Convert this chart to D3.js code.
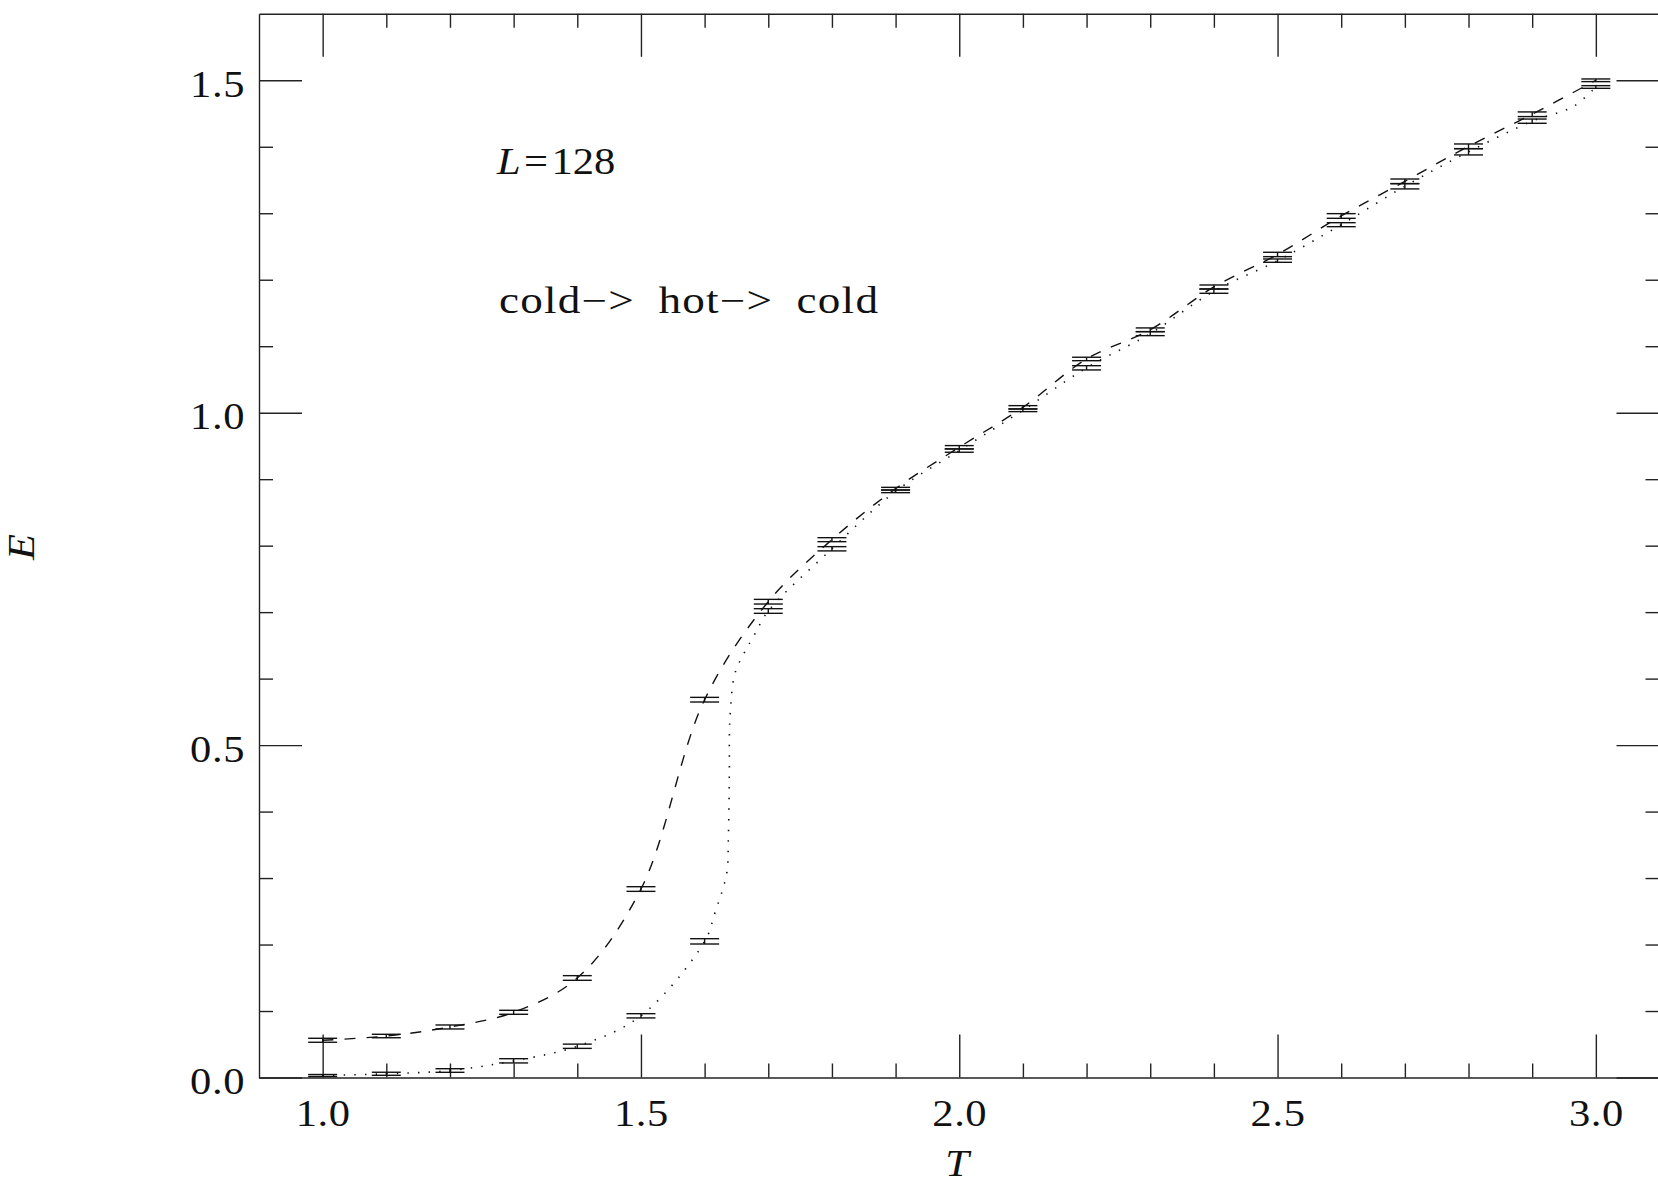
<!DOCTYPE html>
<html>
<head>
<meta charset="utf-8">
<script src="https://cdn.jsdelivr.net/npm/d3@7"></script>
<style>
  html, body { margin: 0; padding: 0; background: #fff; }
  svg { display: block; }
  text { font-family: "Liberation Serif", "DejaVu Serif", serif; fill: #111; }
</style>
</head>
<body>
<svg id="chart" width="1658" height="1185"></svg>
<script>
// Temperatures of the sweep
const temps = [1.0, 1.1, 1.2, 1.3, 1.4, 1.5, 1.6, 1.7, 1.8, 1.9, 2.0,
               2.1, 2.2, 2.3, 2.4, 2.5, 2.6, 2.7, 2.8, 2.9, 3.0];

// Energy while heating (cold start), with errors
const heatE = [0.056, 0.0624, 0.076, 0.0981, 0.1497, 0.2835, 0.5683, 0.7157, 0.809, 0.8857, 0.948,
               1.0081, 1.0808, 1.1247, 1.1891, 1.238, 1.2959, 1.348, 1.4007, 1.4489, 1.500];
const heatErr = [0.003, 0.0026, 0.003, 0.003, 0.0035, 0.0035, 0.0035, 0.0035, 0.003, 0.002, 0.0025,
                 0.0025, 0.0026, 0.0028, 0.003, 0.0033, 0.0035, 0.0035, 0.0035, 0.0035, 0.002];

// Energy while cooling back down, with errors
const coolE = [0.003, 0.0056, 0.0105, 0.0251, 0.047, 0.0928, 0.2048, 0.7017, 0.7953, 0.8817, 0.943,
               1.0036, 1.0675, 1.1189, 1.1828, 1.2287, 1.2828, 1.3406, 1.3924, 1.4385, 1.4899];
const coolErr = [0.0015, 0.0023, 0.0027, 0.0032, 0.0032, 0.0032, 0.004, 0.0035, 0.0032, 0.002, 0.0025,
                 0.002, 0.0032, 0.003, 0.0032, 0.0025, 0.003, 0.004, 0.0047, 0.0032, 0.002];

// Extra knots of the smooth cooling curve (steep jump near T = 1.64)
const coolKnotT = [1.616, 1.6347, 1.6372, 1.6388, 1.6399, 1.6477, 1.6619, 1.6781, 2.964];
const coolKnotE = [0.247, 0.3072, 0.3573, 0.4525, 0.5427, 0.608, 0.6381, 0.6656, 1.4603];

// Axis ticks
const xMajorTicks = [1.0, 1.5, 2.0, 2.5, 3.0];
const xTickLabels = ["1.0", "1.5", "2.0", "2.5", "3.0"];
const xMinorTicks = [1.1, 1.2, 1.3, 1.4, 1.6, 1.7, 1.8, 1.9, 2.1, 2.2, 2.3, 2.4, 2.6, 2.7, 2.8, 2.9];
const yMajorTicks = [0.0, 0.5, 1.0, 1.5];
const yTickLabels = ["0.0", "0.5", "1.0", "1.5"];
const yMinorTicks = [0.1, 0.2, 0.3, 0.4, 0.6, 0.7, 0.8, 0.9, 1.1, 1.2, 1.3, 1.4];

const svg = d3.select("#chart");
const INK = "#111";
const AX = "#222";

const x = d3.scaleLinear().domain([0.9, 3.1]).range([259, 1659.5]);
const y = d3.scaleLinear().domain([0, 1.6]).range([1077.5, 13.8]);

const x0 = x.range()[0], x1 = x.range()[1];
const y0 = y.range()[0], y1 = y.range()[1];

const MAJOR = 43, MINOR = 14;
const WIDEN = 1.15;   // horizontal stretch of the serif face for labels
const LEFT_PAD = 14;

function styleAxis(g) {
  g.selectAll("path.domain").attr("stroke", AX).attr("stroke-width", 1.4);
  g.selectAll(".tick line").attr("stroke", AX).attr("stroke-width", 1.4);
  g.selectAll(".tick text")
    .attr("fill", INK)
    .style("font-family", '"Liberation Serif", "DejaVu Serif", serif')
    .style("font-size", "37px")
    .style("letter-spacing", "0.5px");
}

// bottom axis with labels
svg.append("g")
  .attr("transform", `translate(0,${y0})`)
  .call(d3.axisBottom(x).tickValues(xMajorTicks).tickSize(-MAJOR).tickSizeOuter(0)
        .tickPadding(22).tickFormat((d, i) => xTickLabels[i]))
  .call(styleAxis)
  .call(g => g.selectAll(".tick text").attr("transform", `scale(${WIDEN},1)`));
svg.append("g")
  .attr("transform", `translate(0,${y0})`)
  .call(d3.axisBottom(x).tickValues(xMinorTicks).tickSize(-MINOR).tickFormat(""))
  .call(g => g.select("path.domain").remove())
  .call(styleAxis);

// top axis
svg.append("g")
  .attr("transform", `translate(0,${y1})`)
  .call(d3.axisTop(x).tickValues(xMajorTicks).tickSize(-MAJOR).tickSizeOuter(0).tickFormat(""))
  .call(styleAxis);
svg.append("g")
  .attr("transform", `translate(0,${y1})`)
  .call(d3.axisTop(x).tickValues(xMinorTicks).tickSize(-MINOR).tickFormat(""))
  .call(g => g.select("path.domain").remove())
  .call(styleAxis);

// left axis with labels
svg.append("g")
  .attr("transform", `translate(${x0},0)`)
  .call(d3.axisLeft(y).tickValues(yMajorTicks).tickSize(-MAJOR).tickSizeOuter(0)
        .tickFormat((d, i) => yTickLabels[i]))
  .call(styleAxis)
  .call(g => g.selectAll(".tick text")
    .attr("dy", "0.43em")
    .attr("x", -LEFT_PAD / WIDEN)
    .attr("transform", `scale(${WIDEN},1)`));
svg.append("g")
  .attr("transform", `translate(${x0},0)`)
  .call(d3.axisLeft(y).tickValues(yMinorTicks).tickSize(-MINOR).tickFormat(""))
  .call(g => g.select("path.domain").remove())
  .call(styleAxis);

// right axis
svg.append("g")
  .attr("transform", `translate(${x1},0)`)
  .call(d3.axisRight(y).tickValues(yMajorTicks).tickSize(-MAJOR).tickSizeOuter(0).tickFormat(""))
  .call(styleAxis);
svg.append("g")
  .attr("transform", `translate(${x1},0)`)
  .call(d3.axisRight(y).tickValues(yMinorTicks).tickSize(-MINOR).tickFormat(""))
  .call(g => g.select("path.domain").remove())
  .call(styleAxis);

// smooth curves
const line = d3.line()
  .x(d => x(d[0]))
  .y(d => y(d[1]))
  .curve(d3.curveCatmullRom.alpha(0.5));

const heatPts = temps.map((t, i) => [t, heatE[i]]);
const coolPts = temps.map((t, i) => [t, coolE[i]])
  .concat(coolKnotT.map((t, i) => [t, coolKnotE[i]]))
  .sort((a, b) => a[0] - b[0]);

svg.append("path")
  .attr("d", line(heatPts))
  .attr("fill", "none")
  .attr("stroke", INK)
  .attr("stroke-width", 1.4)
  .attr("stroke-dasharray", "11 11");

svg.append("path")
  .attr("d", line(coolPts))
  .attr("fill", "none")
  .attr("stroke", INK)
  .attr("stroke-width", 1.6)
  .attr("stroke-dasharray", "1.4 9.2");

// error bars
const CAP = 14.5;
function errorBars(vals, errs) {
  const g = svg.append("g").attr("stroke", INK).attr("stroke-width", 1.4).attr("fill", "none");
  temps.forEach((t, i) => {
    const cx = x(t);
    const yt = y(vals[i] + errs[i]);
    const yb = y(vals[i] - errs[i]);
    g.append("line").attr("x1", cx).attr("x2", cx).attr("y1", yt).attr("y2", yb);
    g.append("line").attr("x1", cx - CAP).attr("x2", cx + CAP).attr("y1", yt).attr("y2", yt);
    g.append("line").attr("x1", cx - CAP).attr("x2", cx + CAP).attr("y1", yb).attr("y2", yb);
  });
}
errorBars(heatE, heatErr);
errorBars(coolE, coolErr);

// axis titles
svg.append("text")
  .attr("transform", `translate(957,1176) scale(${WIDEN},1)`)
  .attr("text-anchor", "middle")
  .style("font-size", "37px").style("font-style", "italic")
  .text("T");

svg.append("text")
  .attr("transform", `translate(34,547) rotate(-90) scale(${WIDEN},1)`)
  .attr("text-anchor", "middle")
  .style("font-size", "37px").style("font-style", "italic")
  .text("E");

// annotations
const ann = svg.append("text")
  .attr("transform", `translate(497,174) scale(${WIDEN},1)`)
  .style("font-size", "37px");
ann.append("tspan").style("font-style", "italic").text("L");
ann.append("tspan").attr("dx", 3).text("=");
ann.append("tspan").attr("dx", 3).text("128");

svg.append("text")
  .attr("transform", "translate(499,313) scale(1.22,1)")
  .style("font-size", "37px")
  .style("letter-spacing", "1px")
  .style("word-spacing", "9px")
  .text("cold\u2212> hot\u2212> cold");
</script>
</body>
</html>
